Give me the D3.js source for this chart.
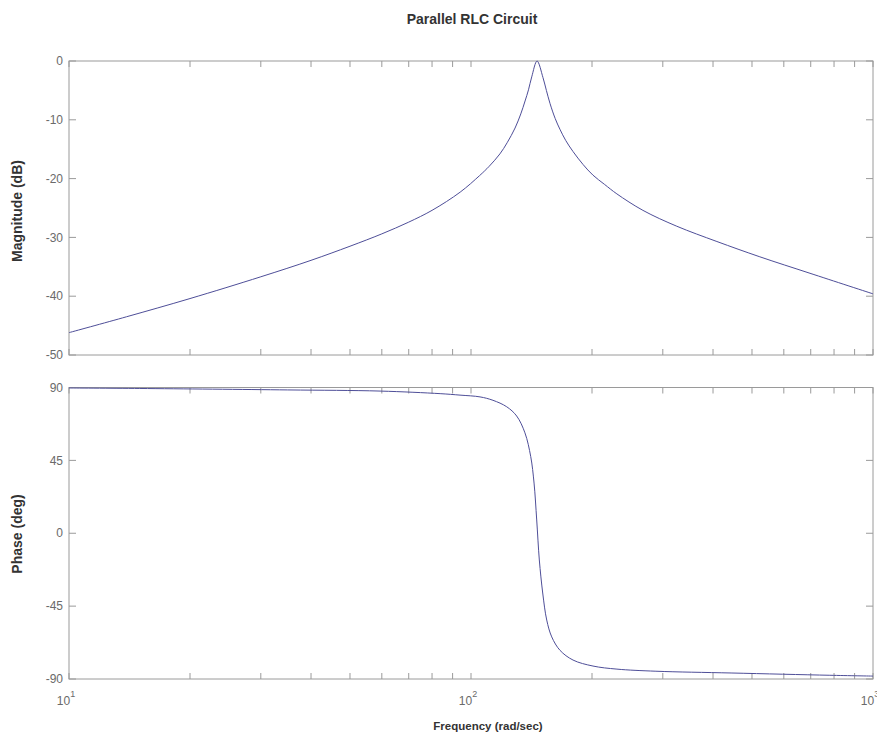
<!doctype html>
<html lang="en">
<head>
<meta charset="utf-8">
<title>Parallel RLC Circuit</title>
<script src="https://d3js.org/d3.v7.min.js"></script>
<style>
  body { margin: 0; background: #fff; }
  text { font-family: "Liberation Sans", Arial, Helvetica, sans-serif; }
</style>
</head>
<body>
<div id="chart"></div>
<script>
  // values
  var magFreq = [10, 13.9, 20, 30, 40, 50, 60, 70, 80, 94, 105, 111, 118, 123, 128.7, 133, 136.3, 139, 141.6, 146,
                 151, 154, 157.2, 162, 166.4, 172, 179.4, 190, 201, 215, 230.6, 267.7, 325, 409, 523, 697, 1000];
  var magDb = [-46.2, -43.5, -40.4, -36.7, -33.9, -31.5, -29.4, -27.4, -25.4, -22.3, -19.5, -17.9, -15.8, -13.9, -11.4, -9.0, -6.8, -4.9, -2.7, 0,
               -2.8, -5.0, -7.2, -9.8, -11.6, -13.5, -15.4, -17.6, -19.4, -21.0, -22.6, -25.4, -28.1, -30.7, -33.3, -36.1, -39.6];

  var phaseFreq = [10, 15, 35, 59.4, 83.8, 93.9, 105.3, 113.4, 122.7, 129.9, 136.2, 140.8, 143.5, 145.7,
                   147.9, 150.8, 154.3, 158.8, 166.5, 179.4, 201.1, 230.7, 288.4, 445.7, 781, 1000];
  var phaseDeg = [89.7, 89.4, 88.5, 87.8, 86.2, 85.3, 84.2, 82.1, 78.1, 72.4, 62.0, 47.3, 31.0, 8.2,
                  -16.5, -36.9, -53.6, -64.0, -72.3, -78.3, -82.0, -83.9, -85.2, -86.3, -87.7, -88.2];

  var magTicks = [0, -10, -20, -30, -40, -50];
  var phaseTicks = [90, 45, 0, -45, -90];
  var decades = [10, 100, 1000];
  var decadeExp = ["1", "2", "3"];

  var W = 877, H = 739;
  var left = 69, right = 873;
  var frameColor = "#9a9a9a", tickText = "#6a6a6a", lineColor = "#4e4e98";

  var svg = d3.select("#chart").append("svg")
    .attr("width", W)
    .attr("height", H);

  var x = d3.scaleLog().domain([10, 1000]).range([left, right]);
  var yMag = d3.scaleLinear().domain([-50, 0]).range([355, 61]);
  var yPh = d3.scaleLinear().domain([-90, 90]).range([679, 387.5]);

  // box with inward ticks on every side, matlab style
  function panel(y, yTicks) {
    var top = y.range()[1], bot = y.range()[0];
    var g = svg.append("g");

    g.append("rect")
      .attr("x", left).attr("y", top)
      .attr("width", right - left).attr("height", bot - top)
      .attr("fill", "none")
      .attr("stroke", frameColor);

    var xt = x.ticks();
    g.selectAll(".xt1").data(xt).enter().append("line")
      .attr("x1", function(d) { return x(d); }).attr("x2", function(d) { return x(d); })
      .attr("y1", top).attr("y2", top + 6)
      .attr("stroke", frameColor);
    g.selectAll(".xt2").data(xt).enter().append("line")
      .attr("x1", function(d) { return x(d); }).attr("x2", function(d) { return x(d); })
      .attr("y1", bot).attr("y2", bot - 6)
      .attr("stroke", frameColor);

    g.selectAll(".yt1").data(yTicks).enter().append("line")
      .attr("x1", left).attr("x2", left + 7)
      .attr("y1", function(d) { return y(d); }).attr("y2", function(d) { return y(d); })
      .attr("stroke", frameColor);
    g.selectAll(".yt2").data(yTicks).enter().append("line")
      .attr("x1", right).attr("x2", right - 7)
      .attr("y1", function(d) { return y(d); }).attr("y2", function(d) { return y(d); })
      .attr("stroke", frameColor);

    g.selectAll(".ylab").data(yTicks).enter().append("text")
      .attr("x", left - 6)
      .attr("y", function(d) { return y(d); })
      .attr("dy", "0.35em")
      .attr("text-anchor", "end")
      .attr("font-size", "12px")
      .attr("fill", tickText)
      .text(function(d) { return d; });
    return g;
  }

  panel(yMag, magTicks);
  panel(yPh, phaseTicks);

  var magLine = d3.line()
    .x(function(d) { return x(d[0]); })
    .y(function(d) { return yMag(d[1]); })
    .curve(d3.curveCatmullRom.alpha(0.5));

  var phLine = d3.line()
    .x(function(d) { return x(d[0]); })
    .y(function(d) { return yPh(d[1]); })
    .curve(d3.curveCatmullRom.alpha(0.5));

  svg.append("path")
    .datum(d3.zip(magFreq, magDb))
    .attr("d", magLine)
    .attr("fill", "none")
    .attr("stroke", lineColor)
    .attr("stroke-width", 1);

  svg.append("path")
    .datum(d3.zip(phaseFreq, phaseDeg))
    .attr("d", phLine)
    .attr("fill", "none")
    .attr("stroke", lineColor)
    .attr("stroke-width", 1);

  // decade labels 10^n
  var dl = svg.selectAll(".dec").data(decades).enter().append("text")
    .attr("x", function(d) { return x(d) - 3; })
    .attr("y", 705)
    .attr("text-anchor", "middle")
    .attr("font-size", "12px")
    .attr("fill", tickText);
  dl.append("tspan").text("10");
  dl.append("tspan")
    .attr("dy", -8)
    .attr("font-size", "9px")
    .text(function(d, i) { return decadeExp[i]; });

  // titles
  svg.append("text")
    .attr("x", 472).attr("y", 24)
    .attr("text-anchor", "middle")
    .attr("font-size", "14px")
    .attr("font-weight", "bold")
    .attr("fill", "#333")
    .text("Parallel RLC Circuit");

  svg.append("text")
    .attr("x", 488).attr("y", 730)
    .attr("text-anchor", "middle")
    .attr("font-size", "11.5px")
    .attr("font-weight", "bold")
    .attr("fill", "#333")
    .text("Frequency (rad/sec)");

  svg.append("text")
    .attr("transform", "translate(22,211) rotate(-90)")
    .attr("text-anchor", "middle")
    .attr("font-size", "14px")
    .attr("font-weight", "bold")
    .attr("fill", "#333")
    .text("Magnitude (dB)");

  svg.append("text")
    .attr("transform", "translate(22,534) rotate(-90)")
    .attr("text-anchor", "middle")
    .attr("font-size", "14px")
    .attr("font-weight", "bold")
    .attr("fill", "#333")
    .text("Phase (deg)");
</script>
</body>
</html>
